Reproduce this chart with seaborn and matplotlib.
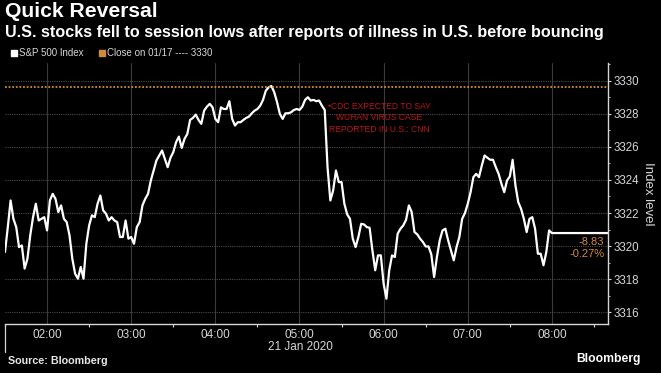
import pandas as pd
import seaborn as sns
import matplotlib.pyplot as plt
import matplotlib.dates as mdates
import matplotlib.font_manager as fm
from matplotlib.lines import Line2D
from matplotlib.ticker import MultipleLocator

# S&P 500 Index, every 2 minutes from 01:30 to 08:00 (21 Jan 2020)
start_time = "2020-01-21 01:30"
end_time = "2020-01-21 08:00"
hold_until = "2020-01-21 08:40"   # last value carried to the right edge
spx_level = [
    3319.64, 3321.15, 3322.76, 3321.65, 3321.15, 3319.94, 3320.04, 3318.64, 3319.24, 3320.65,
    3321.75, 3322.56, 3321.55, 3321.65, 3321.75, 3320.95, 3322.76, 3323.16, 3322.86, 3322.06,
    3322.46, 3321.65, 3321.45, 3320.65, 3319.24, 3318.33, 3318.03, 3318.74, 3318.03, 3320.14,
    3321.25, 3321.86, 3321.75, 3322.56, 3323.06, 3322.16, 3321.96, 3321.55, 3321.75, 3321.55,
    3321.45, 3320.55, 3320.55, 3321.55, 3320.45, 3320.55, 3320.14, 3321.15, 3321.45, 3322.46,
    3322.86, 3323.16, 3323.97,
    3324.57, 3325.18, 3325.48, 3325.78, 3325.28, 3324.77, 3325.34, 3325.68, 3326.28, 3326.62,
    3325.94, 3326.48, 3326.78, 3327.63, 3327.75, 3327.95, 3327.63, 3327.39, 3328.19, 3328.43,
    3328.60, 3328.39, 3327.69, 3327.49, 3328.39, 3328.29, 3328.29, 3328.76, 3327.69, 3327.29,
    3327.49, 3327.49, 3327.63, 3327.75, 3327.83, 3328.03, 3328.19, 3328.29, 3328.49, 3328.84,
    3329.40, 3329.60, 3329.68, 3329.30, 3328.70, 3327.99, 3327.69, 3328.03, 3328.03, 3328.09,
    3328.23, 3328.29, 3328.23, 3328.43, 3328.84, 3329.00, 3328.80,
    3328.84, 3328.76, 3328.80, 3328.49, 3328.23, 3324.77, 3322.76, 3323.36, 3324.57, 3323.87,
    3323.87, 3322.56, 3321.92, 3321.65, 3320.45, 3319.94, 3320.55, 3321.35, 3321.31, 3321.15,
    3321.11, 3319.74, 3318.54, 3319.44, 3319.44, 3317.73, 3316.82, 3318.54, 3319.44, 3319.34,
    3320.75, 3321.05, 3321.25, 3321.59, 3322.46, 3322.06, 3320.85, 3320.71, 3320.45, 3320.25,
    3319.98, 3319.98, 3319.50, 3318.13, 3319.34, 3320.35, 3320.95, 3321.05, 3320.35, 3319.74,
    3319.14, 3319.94, 3320.55, 3321.65,
    3322.00, 3322.56, 3323.26, 3324.17, 3324.37, 3324.17, 3324.87, 3325.48, 3325.34, 3325.22,
    3325.22, 3324.77, 3324.37, 3323.77, 3323.26, 3323.97, 3324.21, 3325.22, 3323.67, 3322.66,
    3322.26, 3321.65, 3320.85, 3321.65, 3321.75, 3321.05, 3319.54, 3319.54, 3318.84, 3319.64,
    3320.95, 3320.79,
]
prev_close = 3329.62          # close on 01/17
y_ticks = [3316, 3318, 3320, 3322, 3324, 3326, 3328, 3330]

cdc_time = "2020-01-21 05:57"
cdc_level = 3327.75
cdc_text = "\u2022CDC EXPECTED TO SAY\nWUHAN VIRUS CASE\nREPORTED IN U.S.: CNN"

FG = "#d6d6d6"
ORANGE = "#d08a3c"
RED = "#b8161c"
W, H = 661, 373


def set_config():
    # Bloomberg looks condensed, use Liberation Sans Narrow when it is there
    names = {f.name for f in fm.fontManager.ttflist}
    fams = []
    for name in ["Liberation Sans Narrow", "Liberation Sans", "DejaVu Sans"]:
        if name in names:
            fams.append(name)
    fams.append("DejaVu Sans")
    sns.set_theme(style="dark", rc={
        "figure.facecolor": "black",
        "axes.facecolor": "black",
        "savefig.facecolor": "black",
        "text.color": FG,
        "xtick.color": FG,
        "ytick.color": FG,
        "axes.labelcolor": FG,
    })
    plt.rcParams["font.family"] = fams
    return names


def fit_width(fig, txt, width_px):
    # scale the font so the text covers the same width as in the picture
    renderer = fig.canvas.get_renderer()
    w = txt.get_window_extent(renderer).width
    txt.set_fontsize(txt.get_fontsize() * width_px / w)


def main():
    names = set_config()
    plain = "Liberation Sans" if "Liberation Sans" in names else "DejaVu Sans"

    times = list(pd.date_range(start_time, end_time, freq="2min")) + [pd.Timestamp(hold_until)]
    levels = spx_level + [spx_level[-1]]
    df = pd.DataFrame({"time": times, "level": levels})

    fig = plt.figure(figsize=(W / 100, H / 100), dpi=100)
    ax = fig.add_axes([5 / W, 1 - 323.7 / H, 603 / W, 260.7 / H])

    sns.lineplot(x="time", y="level", data=df, color="white", lw=1.6, ax=ax)
    ax.axhline(prev_close, color=ORANGE, lw=1.3, ls=(0, (1, 1)))

    ax.set_xlim(pd.Timestamp(start_time), pd.Timestamp(hold_until))
    ax.set_ylim(3315.31, 3331.07)

    # axes
    for side in ["left", "top"]:
        ax.spines[side].set_visible(False)
    for side in ["right", "bottom"]:
        ax.spines[side].set_visible(True)
        ax.spines[side].set_color(FG)
        ax.spines[side].set_linewidth(1.0)

    ax.yaxis.tick_right()
    ax.set_yticks(y_ticks)
    ax.yaxis.set_minor_locator(MultipleLocator(1))
    ax.tick_params(axis="y", which="major", right=True, length=2.5, width=0.8,
                   pad=1.5, labelsize=8.3, direction="out")
    ax.tick_params(axis="y", which="minor", right=True, length=1.5, width=0.6)
    for lab in ax.get_yticklabels():
        lab.set_fontfamily(plain)

    ax.xaxis.set_major_locator(mdates.HourLocator())
    ax.xaxis.set_major_formatter(mdates.DateFormatter("%H:%M"))
    ax.xaxis.set_minor_locator(mdates.MinuteLocator(byminute=[30]))
    ax.tick_params(axis="x", which="major", bottom=True, length=0, pad=4, labelsize=8.5)
    ax.tick_params(axis="x", which="minor", bottom=True, length=2, width=0.8, color=FG)
    for lab in ax.get_xticklabels():
        lab.set_fontfamily(plain)

    ax.set_xlabel("")
    ax.set_ylabel("Index level", rotation=270, fontsize=9.5, va="center", family=plain)
    ax.yaxis.set_label_position("right")
    ax.yaxis.set_label_coords(1.076, 0.5)

    ax.xaxis.grid(True, which="major", color="#3a3a3a", lw=0.8)
    ax.yaxis.grid(True, which="major", color="#4a4a4a", lw=0.8, ls=(0, (1, 1)))

    # day separator below the axis
    ax.axvline(pd.Timestamp(start_time), ymin=-0.109, ymax=0, color=FG, lw=0.9, clip_on=False)

    # news annotation
    note = ax.text(pd.Timestamp(cdc_time), cdc_level, cdc_text, ha="center", va="center",
                   color=RED, fontsize=7, linespacing=1.4)

    # change vs previous close
    last = spx_level[-1]
    chg = last - prev_close
    pct = chg / prev_close * 100
    ax.annotate(f"{chg:.2f}", xy=(0.994, last), xycoords=("axes fraction", "data"),
                xytext=(0, -6.8), textcoords="offset points", ha="right", va="center",
                color=ORANGE, fontsize=8)
    ax.annotate(f"{pct:.2f}%", xy=(0.994, last), xycoords=("axes fraction", "data"),
                xytext=(0, -15.2), textcoords="offset points", ha="right", va="center",
                color=ORANGE, fontsize=8)

    # legend row
    handles = [
        Line2D([], [], marker="s", color="white", ls="none", markersize=4),
        Line2D([], [], marker="s", color=ORANGE, ls="none", markersize=4),
    ]
    labels = ["S&P 500 Index", f"Close on 01/17 ---- {prev_close:.0f}"]
    fig.legend(handles, labels, loc="center left", bbox_to_anchor=(12 / W, 1 - 53 / H),
               ncol=2, frameon=False, fontsize=7, handlelength=0.5, handletextpad=0.25,
               columnspacing=1.6, labelcolor=FG, borderpad=0, borderaxespad=0)

    # titles and footer
    title = fig.text(5 / W, 1 - 2 / H, "Quick Reversal", va="top", ha="left",
                     fontsize=15, weight="bold", color="white")
    sub = fig.text(5 / W, 1 - 25 / H,
                   "U.S. stocks fell to session lows after reports of illness in U.S. before bouncing",
                   va="top", ha="left", fontsize=11, weight="bold", color="white", family=plain)
    fig.text(300 / W, 1 - 347 / H, "21 Jan 2020", ha="center", va="center",
             fontsize=8.5, color=FG, family=plain)
    src = fig.text(8 / W, 1 - 361 / H, "Source: Bloomberg", va="center", ha="left",
                   fontsize=7.5, weight="bold", color="#e6e6e6", family=plain)
    logo = fig.text(641 / W, 1 - 359 / H, "Bloomberg", va="center", ha="right",
                    fontsize=9.5, weight="bold", color="white", family=plain)

    fit_width(fig, title, 153)
    fit_width(fig, sub, 601)
    fit_width(fig, src, 100)
    fit_width(fig, logo, 64)
    fit_width(fig, note, 103)

    fig.savefig("out.png", dpi=100)


if __name__ == "__main__":
    main()
